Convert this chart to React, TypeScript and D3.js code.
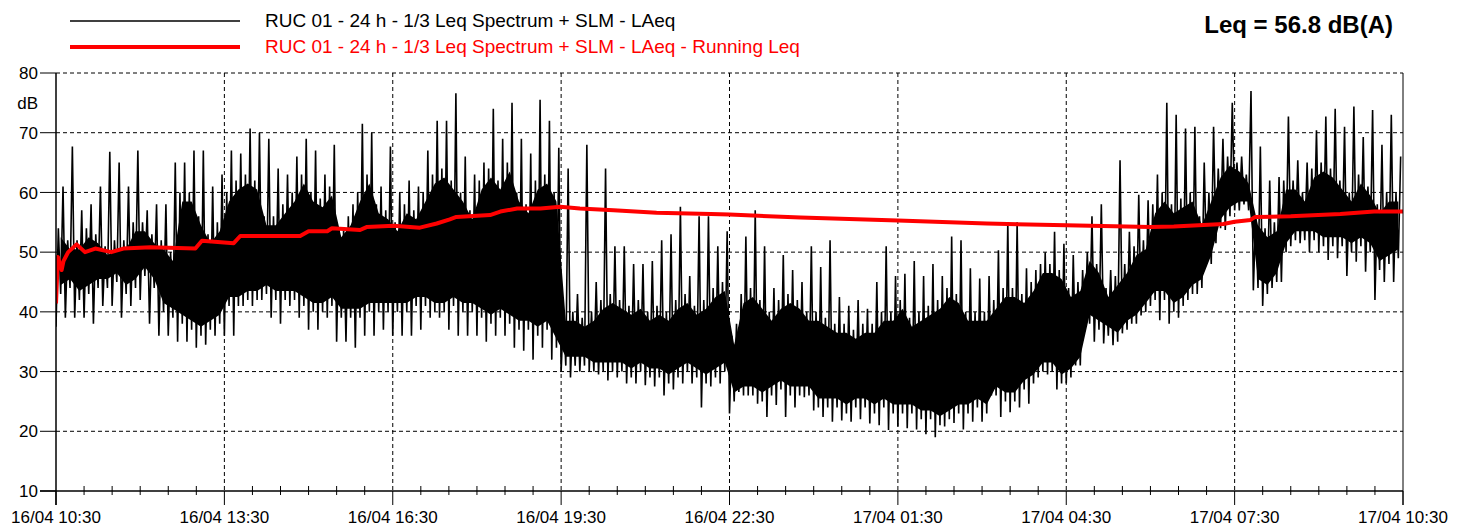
import React from "react";
import * as d3 from "d3";

// time axis: minutes since 16/04 10:30
const xTickLabels = [
  "16/04 10:30",
  "16/04 13:30",
  "16/04 16:30",
  "16/04 19:30",
  "16/04 22:30",
  "17/04 01:30",
  "17/04 04:30",
  "17/04 07:30",
  "17/04 10:30",
];
const yTicks = [10, 20, 30, 40, 50, 60, 70, 80];

// LAeq, highest and lowest reading in each 10 minute slot (144 slots)
const lmax = [
  61, 67.7, 57, 58, 61, 66.8, 65, 61, 67, 57, 58, 58, 65, 65, 67, 67, 61, 63,
  67, 66.5, 70.7, 70, 69, 64, 63, 66, 69, 67, 63, 68, 54, 58, 71.5, 70, 61, 67.7,
  60, 62, 61, 67, 72, 72, 76.6, 66, 63, 65, 74, 69, 75, 69, 66.5, 75.5, 72, 67.5,
  64, 43, 68, 45, 64, 51, 51, 48, 48, 48.5, 52, 53, 57.6, 46, 56, 56, 51, 53.5,
  38, 52.6, 57, 51, 44, 49.5, 47, 45, 51, 47.5, 52, 42.5, 41, 42, 40.5, 45, 51, 46,
  46.4, 48.5, 46, 48, 46, 52.6, 52, 47.3, 45.6, 46, 50.3, 55, 55, 47.3, 47, 50, 53.4, 51.4,
  49.5, 47, 56, 58, 47, 65.4, 53.4, 59.6, 58.7, 63, 75, 73, 70.7, 71, 65, 71, 69, 75,
  66, 77, 67.7, 62, 62.6, 72.7, 65.4, 65, 70.4, 72.7, 74, 71, 74.4, 69.3, 73.8, 68, 73, 66,
];
const lmin = [
  37.5, 39, 39, 39, 38, 41, 41, 39, 41, 42, 38, 36, 36, 35, 35, 34, 34.5, 36,
  36, 36, 41, 41, 42, 39, 38, 41, 39, 37, 37, 39, 35, 35, 34, 36, 36, 37,
  36, 36, 36, 37, 39, 39, 37, 36, 36, 36, 35, 36, 36, 34, 33.5, 32, 34, 32,
  30, 29, 30, 30, 29.5, 28.5, 29, 28, 28, 27.7, 27.5, 26, 27, 28, 28, 24, 27.5, 28,
  23, 26.6, 26, 24.6, 22.4, 24.4, 22.4, 24, 25.7, 23.5, 22.4, 21.6, 21.8, 21.6, 22, 21.3, 21, 20.2,
  20.8, 20.5, 20.3, 19.5, 19, 20.8, 21.4, 20.3, 21.6, 21.6, 26, 22.4, 23.2, 24, 24.6, 29, 29.5, 27,
  28, 31, 37, 35, 34.7, 34.4, 36.4, 38, 39.4, 41, 38.6, 38, 39, 42, 43, 48, 51.5, 53.7,
  57, 58, 43.6, 41, 44, 45, 51, 51.5, 50, 50, 48.7, 49, 46, 48.4, 46.7, 42, 45, 45,
];

// dense part of the trace in each 10 minute slot
const coreLow = [
  43, 44, 42, 43, 44, 44, 45, 43, 44, 46, 44, 40, 39, 38, 37, 36, 37, 38,
  41, 41, 42, 42, 43, 42, 42, 42, 41, 40, 40, 41, 39, 39, 39, 40, 40, 40,
  40, 40, 41, 41, 40, 40, 41, 40, 40, 39, 38, 39, 38, 37, 37, 36, 37, 34,
  31, 31, 31, 30, 30, 30, 30, 29, 30, 29, 29, 28, 29, 30, 29, 28, 29, 30,
  25, 26, 26, 25, 26, 27, 26, 26, 26, 24, 24, 24, 23, 24, 24, 23, 24, 23,
  23, 23, 22, 22, 21, 22, 23, 23, 24, 23, 26, 25, 25, 27, 28, 30, 30, 28,
  29, 31, 38, 37, 36, 35, 37, 38, 40, 42, 42, 40, 41, 43, 44, 48, 54, 56,
  57, 57, 44, 43, 45, 50, 52, 52, 52, 51, 51, 51, 50, 51, 50, 47, 48, 49,
];
const coreHigh = [
  54, 52, 52, 54, 53, 51, 52, 52, 55, 55, 53, 52, 50, 60, 60, 56, 53, 55,
  60, 62, 63, 62, 56, 56, 58, 60, 63, 60, 59, 61, 54, 56, 60, 63, 58, 57,
  55, 58, 57, 60, 63, 64, 62, 60, 57, 62, 64, 62, 65, 60, 58, 62, 63, 60,
  40, 40, 39, 40, 42, 43, 42, 41, 42, 40, 41, 40, 42, 43, 41, 42, 44, 45,
  36, 43, 44, 42, 40, 42, 43, 42, 40, 40, 39, 38, 38, 37, 38, 38, 40, 40,
  42, 39, 40, 41, 42, 44, 43, 40, 40, 40, 42, 44, 44, 43, 45, 48, 48, 47,
  44, 45, 50, 48, 44, 46, 48, 51, 52, 58, 60, 58, 59, 60, 56, 60, 64, 66,
  65, 63, 56, 54, 55, 62, 62, 60, 64, 65, 64, 62, 60, 63, 61, 58, 60, 60,
];

// running Leq
const leqMinutes = [
  0, 2, 6, 8, 13, 22, 31, 42, 59, 72, 101, 149, 156, 190, 197, 261, 270, 290,
  295, 325, 332, 361, 389, 407, 421, 428, 464, 475, 493, 518, 539, 560, 596,
  642, 700, 720, 796, 900, 995, 1080, 1170, 1195, 1248, 1260, 1277, 1282, 1320,
  1373, 1409, 1440,
];
const leqValues = [
  41.4, 49.2, 47, 48.5, 50, 51.3, 50, 50.6, 50, 50.6, 50.8, 50.6, 51.9, 51.5,
  52.7, 52.7, 53.5, 53.5, 54, 53.7, 54.2, 54.4, 54.1, 54.8, 55.5, 55.9, 56.2,
  56.8, 57.3, 57.3, 57.6, 57.3, 57, 56.6, 56.4, 56.3, 55.8, 55.3, 54.8, 54.5,
  54.2, 54.3, 54.7, 55.1, 55.4, 55.9, 56, 56.4, 56.8, 56.8,
];

const legendNames = [
  "RUC 01 - 24 h - 1/3 Leq Spectrum + SLM - LAeq",
  "RUC 01 - 24 h - 1/3 Leq Spectrum + SLM - LAeq - Running Leq",
];
const leqTotal = "Leq = 56.8 dB(A)";

const W = 1470;
const H = 529;
const left = 56;
const right = 1403;
const top = 73;
const bottom = 491;
const font = "'Liberation Sans', Arial, Helvetica, sans-serif";

export default function App() {
  const x = d3.scaleLinear().domain([0, 1440]).range([left, right]);
  const y = d3.scaleLinear().domain([10, 80]).range([bottom, top]);

  // each slot: lowest -> top of dense band -> bottom of dense band -> highest
  const trace: [number, number][] = [];
  lmax.forEach((hi, i) => {
    trace.push([i * 10, lmin[i]]);
    trace.push([i * 10 + 2.5, coreHigh[i]]);
    trace.push([i * 10 + 5, coreLow[i]]);
    trace.push([i * 10 + 7.5, hi]);
  });
  const traceLine = d3
    .line<[number, number]>()
    .x((d) => x(d[0]))
    .y((d) => y(d[1]));

  // dense band, slightly narrower than the zigzag so its edges stay ragged
  const band = d3
    .area<number>()
    .x((d, i) => x(i * 10 + 5))
    .y0((d) => y(d + 1.5))
    .y1((d, i) => y(coreHigh[i] - 1.5));

  const leqLine = d3
    .line<number>()
    .x((d, i) => x(leqMinutes[i]))
    .y((d) => y(d));

  const majorTicks = d3.range(0, 1441, 180);
  const minorTicks = d3.range(0, 1441, 30).filter((m) => m % 180 !== 0);

  return (
    <svg
      width={W}
      height={H}
      style={{ position: "absolute", left: 0, top: 0, background: "#fff" }}
      fontFamily={font}
    >
      <defs>
        <clipPath id="plot">
          <rect x={left} y={top} width={right - left} height={bottom - top} />
        </clipPath>
      </defs>

      {/* grid */}
      {yTicks.slice(1).map((t) => (
        <line
          key={"gy" + t}
          x1={left}
          x2={right}
          y1={y(t)}
          y2={y(t)}
          stroke="#000"
          strokeWidth={1}
          strokeDasharray="4,3"
        />
      ))}
      {majorTicks.slice(1, -1).map((m) => (
        <line
          key={"gx" + m}
          x1={x(m)}
          x2={x(m)}
          y1={top}
          y2={bottom}
          stroke="#000"
          strokeWidth={1}
          strokeDasharray="4,3"
        />
      ))}

      {/* data */}
      <g clipPath="url(#plot)">
        <path d={band(coreLow) || ""} fill="#000" />
        <path
          d={traceLine(trace) || ""}
          fill="none"
          stroke="#000"
          strokeWidth={1.6}
        />
        <path
          d={leqLine(leqValues) || ""}
          fill="none"
          stroke="#ff0000"
          strokeWidth={4}
          strokeLinejoin="round"
        />
      </g>

      {/* frame */}
      <line x1={left} x2={left} y1={top} y2={bottom + 14} stroke="#000" strokeWidth={1.5} />
      <line x1={left - 16} x2={right} y1={bottom} y2={bottom} stroke="#000" strokeWidth={1.5} />
      <line x1={right} x2={right} y1={top} y2={bottom + 14} stroke="#000" strokeWidth={1} />

      {/* y axis */}
      {yTicks.map((t) => (
        <g key={"ty" + t}>
          <line x1={left - 16} x2={left} y1={y(t)} y2={y(t)} stroke="#000" strokeWidth={1} />
          <text x={38} y={y(t)} dy="0.36em" textAnchor="end" fontSize={17}>
            {t}
          </text>
        </g>
      ))}
      <text x={38} y={109} textAnchor="end" fontSize={17}>
        dB
      </text>

      {/* x axis */}
      {majorTicks.map((m, i) => (
        <g key={"tx" + m}>
          <line x1={x(m)} x2={x(m)} y1={bottom} y2={bottom + 14} stroke="#000" strokeWidth={1} />
          <text x={x(m)} y={523} textAnchor="middle" fontSize={17}>
            {xTickLabels[i]}
          </text>
        </g>
      ))}
      {minorTicks.map((m) => (
        <line key={"mx" + m} x1={x(m)} x2={x(m)} y1={bottom - 5} y2={bottom + 4} stroke="#000" strokeWidth={1} />
      ))}

      {/* legend */}
      <line x1={70} x2={240} y1={21} y2={21} stroke="#000" strokeWidth={1.4} />
      <text x={265} y={27} fontSize={19} fill="#000">
        {legendNames[0]}
      </text>
      <line x1={70} x2={240} y1={47} y2={47} stroke="#ff0000" strokeWidth={4} />
      <text x={265} y={53} fontSize={19} fill="#ff0000">
        {legendNames[1]}
      </text>

      <text x={1393} y={33} textAnchor="end" fontSize={24} fontWeight="bold">
        {leqTotal}
      </text>
    </svg>
  );
}
